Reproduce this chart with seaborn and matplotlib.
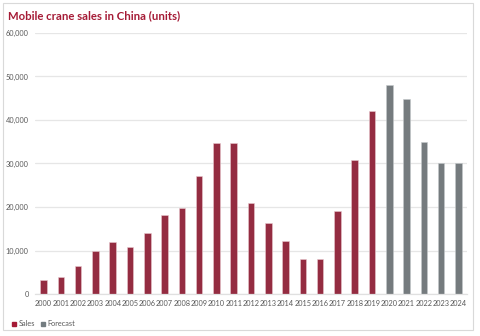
import matplotlib
matplotlib.use("Agg")
import matplotlib.pyplot as plt
from matplotlib.patches import Rectangle
from matplotlib.ticker import FuncFormatter
import seaborn as sns
import pandas as pd

years = [str(y) for y in range(2000, 2025)]
sales = [3200, 3900, 6400, 9900, 11900, 10900, 14000, 18100, 19800, 27200,
         34800, 34800, 21000, 16300, 12100, 8000, 8100, 19100, 30800, 42100]
forecast = [48000, 44900, 35000, 30000, 30000]
series = ["Sales"] * len(sales) + ["Forecast"] * len(forecast)

RED = "#A51B36"
GREY = "#737C80"
TEXT = "#595959"

df = pd.DataFrame({"year": years, "units": sales + forecast, "series": series})

sns.set_theme(style="white")
plt.rcParams["font.family"] = ["Lato", "DejaVu Sans"]

fig = plt.figure(figsize=(4.8, 3.36), dpi=100)
ax = fig.add_axes([35 / 480, 42 / 336, 432 / 480, 261 / 336])

sns.barplot(data=df, x="year", y="units", hue="series",
            palette={"Sales": RED, "Forecast": GREY},
            dodge=False, width=0.38, ax=ax, legend=False,
            edgecolor="#E8C9CF", linewidth=0.4)
for p, s in zip(ax.patches, series):
    if s == "Forecast":
        p.set_edgecolor("#C4C9CB")

ax.set_ylim(0, 60000)
ax.set_xlim(-0.5, 24.5)
ax.set_yticks(range(0, 60001, 10000))
ax.yaxis.set_major_formatter(FuncFormatter(lambda v, _: f"{int(v):,}"))
ax.grid(axis="y", color="#E6E6E6", linewidth=0.9)
ax.set_axisbelow(True)
for side in ["top", "right", "left"]:
    ax.spines[side].set_visible(False)
ax.spines["bottom"].set_color("#E0E0E0")
ax.spines["bottom"].set_linewidth(0.9)
ax.set_xlabel("")
ax.set_ylabel("")
ax.tick_params(axis="both", length=0, labelsize=5.3, colors=TEXT)
ax.tick_params(axis="y", pad=4.5)
ax.tick_params(axis="x", pad=4)

fig.text(8 / 480, 1 - 16 / 336, "Mobile crane sales in China (units)",
         color=RED, fontsize=8.2, fontweight="bold", va="center", ha="left")

# legend
handles = [Rectangle((0, 0), 1, 1, color=RED), Rectangle((0, 0), 1, 1, color=GREY)]
fig.legend(handles, ["Sales", "Forecast"], loc="center left",
           bbox_to_anchor=(12 / 480, 1 - 324 / 336), ncol=2, frameon=False,
           fontsize=5.3, labelcolor=TEXT, handlelength=0.6, handleheight=0.6,
           handletextpad=0.3, columnspacing=0.8, borderpad=0, borderaxespad=0)

# chart frame
fig.patches.append(Rectangle((3 / 480, 1 - 330 / 336), 470 / 480, 327 / 336,
                             transform=fig.transFigure, fill=False,
                             edgecolor="#D9D9D9", linewidth=0.8))

fig.savefig("out.png", dpi=100)
